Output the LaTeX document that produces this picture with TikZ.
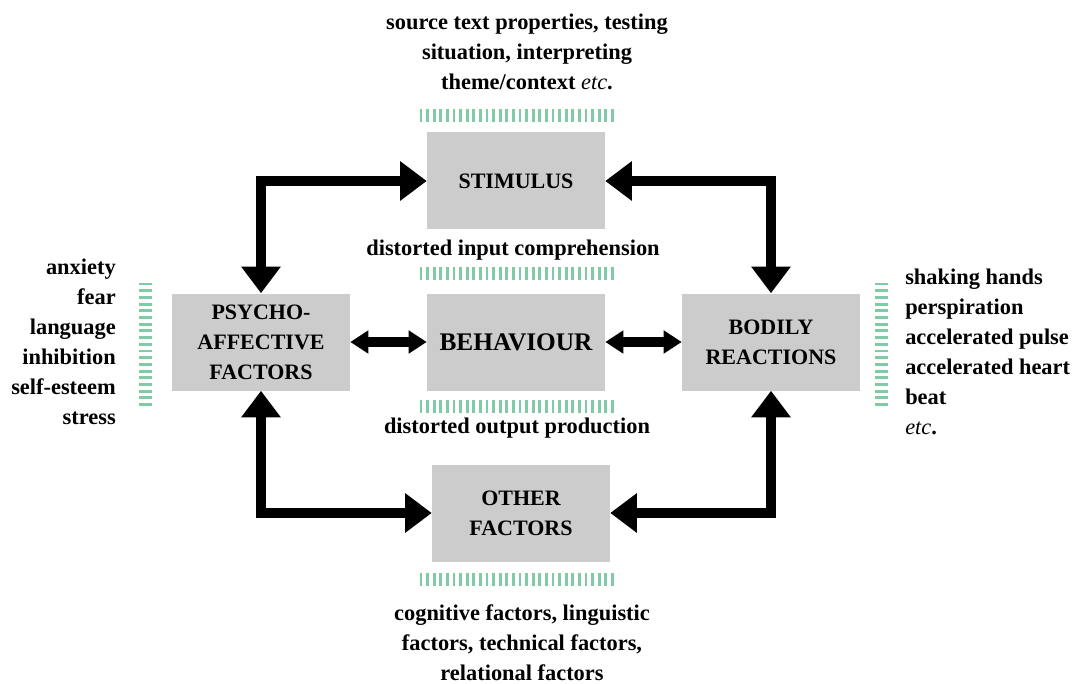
\documentclass[tikz,border=0pt]{standalone}
\usepackage{fontspec}
\setmainfont{Liberation Serif}
\usetikzlibrary{arrows.meta}
\definecolor{boxGrey}{HTML}{CCCCCC}
\definecolor{hatchGreen}{HTML}{80CBA6}

\tikzset{
  box/.style={rectangle, fill=boxGrey, minimum width=133.5pt, minimum height=72.75pt,
    align=center, inner sep=2pt, font=\fontsize{16.5}{22.5}\selectfont\bfseries},
  note/.style={align=center, inner sep=0pt, font=\fontsize{16.8}{22.5}\selectfont\bfseries},
  bigarrow/.style={line width=7.5pt,
    {Triangle[length=20pt,width=28.5pt]}-{Triangle[length=20pt,width=28.5pt]}},
  smallarrow/.style={line width=7.5pt,
    {Triangle[length=13.5pt,width=16.5pt]}-{Triangle[length=13.5pt,width=16.5pt]}},
  hatch/.style={hatchGreen, line width=2.2pt}
}

\begin{document}
\begin{tikzpicture}[x=0.75pt, y=-0.75pt]
  \useasboundingbox (0,0) rectangle (1073,684);

  % boxes
  \node[box] (1) at (516,181) {STIMULUS};
  \node[box] (2) at (261,342) {PSYCHO-\\AFFECTIVE\\FACTORS};
  \node[box, font=\fontsize{19}{23}\selectfont\bfseries] (3) at (516,342) {BEHAVIOUR};
  \node[box] (4) at (771,342) {BODILY\\REACTIONS};
  \node[box] (5) at (521,513) {OTHER\\FACTORS};

  % texts
  \node[note] (s) at (527,52) {source text properties, testing\\situation, interpreting\\theme/context {\mdseries\itshape etc}.};
  \node[note] (i) at (513,250) {distorted input comprehension};
  \node[note] (o) at (517,428) {distorted output production};
  \node[note] (f) at (522,643) {cognitive factors, linguistic\\factors, technical factors,\\relational factors};
  \node[note, align=right, anchor=east] (p) at (116,342) {anxiety\\fear\\language\\inhibition\\self-esteem\\stress};
  \node[note, align=left, anchor=west] (b) at (905,352) {shaking hands\\perspiration\\accelerated pulse\\accelerated heart\\beat\\{\mdseries\itshape etc}.};

  % hatched bars
  \foreach \y in {109,267,400,573}
    \foreach \i in {0,...,29}
      \draw[hatch] (421+\i*6.6,\y) -- ++(0,13);
  \foreach \x in {139,875}
    \foreach \i in {0,...,18}
      \draw[hatch] (\x,284+\i*6.7) -- ++(13,0);

  % arrows
  \draw[bigarrow] (2.north) |- (1.west);
  \draw[bigarrow] (1.east) -| (4.north);
  \draw[bigarrow] (2.south) |- (5.west);
  \draw[bigarrow] (5.east) -| (4.south);
  \draw[smallarrow] (2.east) -- (3.west);
  \draw[smallarrow] (3.east) -- (4.west);
\end{tikzpicture}
\end{document}
